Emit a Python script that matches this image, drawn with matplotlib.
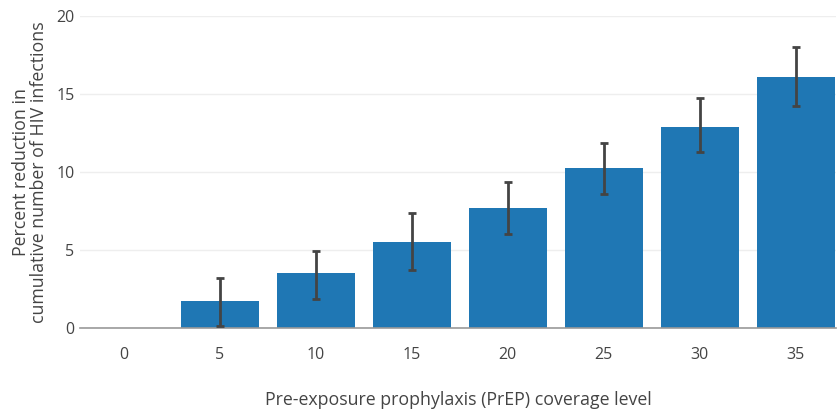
import matplotlib
matplotlib.use('Agg')
import matplotlib.pyplot as plt
import numpy as np

plt.rcParams['font.family'] = ['Open Sans', 'DejaVu Sans']

# data
coverage = ['0', '5', '10', '15', '20', '25', '30', '35']
reduction = [0.0, 1.73, 3.53, 5.51, 7.69, 10.24, 12.9, 16.09]
err_high = [0.0, 3.2, 4.94, 7.37, 9.36, 11.83, 14.74, 18.01]
err_low = [0.0, 0.13, 1.86, 3.72, 6.03, 8.59, 11.28, 14.25]

W, H = 838, 416
fig = plt.figure(figsize=(W/100, H/100), dpi=100)
ax = fig.add_axes([80/W, (H-328)/H, (836-80)/W, (328-16)/H])

x = np.arange(len(coverage))
red = np.array(reduction)
yerr = np.array([red - np.array(err_low), np.array(err_high) - red])
has_err = red > 0

ax.bar(x, red, width=0.81, color='#1f77b4', zorder=2)
ax.errorbar(x[has_err], red[has_err], yerr=yerr[:, has_err], fmt='none',
            ecolor='#444444', elinewidth=2, capsize=2.8, capthick=2, zorder=3)

ax.set_xlim(-0.458, 7.42)
ax.set_ylim(0, 20)
ax.set_yticks([0, 5, 10, 15, 20])
ax.set_xticks(x)
ax.set_xticklabels(coverage)
ax.grid(axis='y', color='#eeeeee', linewidth=1, zorder=0)
ax.set_axisbelow(True)
for s in ['top', 'right', 'left']:
    ax.spines[s].set_visible(False)
ax.spines['bottom'].set_color('#999999')
ax.spines['bottom'].set_linewidth(1.2)
ax.tick_params(axis='x', length=0, pad=14, labelsize=11.5, labelcolor='#444444')
ax.tick_params(axis='y', length=0, pad=4, labelsize=11.5, labelcolor='#444444')

ax.set_xlabel('Pre-exposure prophylaxis (PrEP) coverage level', fontsize=12.8,
              color='#444444', labelpad=20)
ax.set_ylabel('Percent reduction in\ncumulative number of HIV infections',
              fontsize=12.8, color='#444444', labelpad=6, linespacing=1.0)

fig.savefig('out.png', dpi=100)
